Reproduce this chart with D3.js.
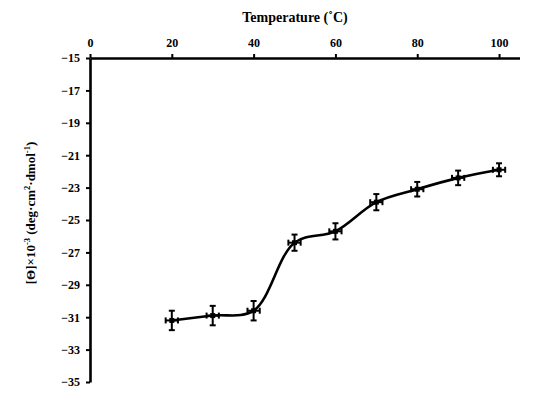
<!DOCTYPE html>
<html>
<head>
<meta charset="utf-8">
<script src="https://cdn.jsdelivr.net/npm/d3@7"></script>
<style>
  body { margin: 0; background: #fff; }
  svg text { font-family: "Times New Roman", Times, "Liberation Serif", serif !important; font-weight: bold; fill: #000; }
  .axis path, .axis line { stroke: #000; }
</style>
</head>
<body>
<script>
// #Data
const temps = [20, 30, 40, 50, 60, 70, 80, 90, 100];
const theta = [-31.2, -30.9, -30.6, -26.4, -25.7, -23.9, -23.1, -22.4, -21.9];
const yErr = [0.6, 0.6, 0.6, 0.5, 0.5, 0.5, 0.45, 0.45, 0.4];
const xErr = [1.5, 1.5, 1.5, 1.5, 1.5, 1.5, 1.5, 1.5, 1.5];
const xTicks = [0, 20, 40, 60, 80, 100];
const yTicks = [-15, -17, -19, -21, -23, -25, -27, -29, -31, -33, -35];

const width = 533, height = 394;
const serif = '"Times New Roman", Times, "Liberation Serif", serif';

const svg = d3.select('body')
              .append('svg')
              .attr('width', width)
              .attr('height', height);

// #Scales
const x = d3.scaleLinear().domain([0, 105]).range([90, 519.5]);
const y = d3.scaleLinear().domain([-15, -35]).range([58, 382]);

// #Axes
const xAxis = d3.axisTop(x).tickValues(xTicks).tickSize(4).tickPadding(7).tickSizeOuter(0);
const yAxis = d3.axisLeft(y).tickValues(yTicks).tickSize(4).tickPadding(6).tickSizeOuter(0);

const gx = svg.append('g')
   .attr('class', 'axis')
   .attr('transform', 'translate(0,' + y(-15) + ')')
   .call(xAxis);

const gy = svg.append('g')
   .attr('class', 'axis')
   .attr('transform', 'translate(' + x(0) + ',0)')
   .call(yAxis);

[gx, gy].forEach(g => {
    g.attr('font-family', serif).attr('font-size', 12);
    g.select('.domain').attr('stroke-width', 2.6);
    g.selectAll('.tick line').attr('stroke-width', 2);
});

// #Titles
svg.append('text')
   .attr('x', 295)
   .attr('y', 22)
   .attr('text-anchor', 'middle')
   .attr('font-family', serif)
   .style('font-size', '14px')
   .text('Temperature (˚C)');

const yl = svg.append('text')
   .attr('transform', 'translate(35,213) rotate(-90)')
   .attr('text-anchor', 'middle')
   .attr('font-family', serif)
   .style('font-size', '13px');
yl.append('tspan').text('[Θ]×10');
yl.append('tspan').attr('dy', -5).style('font-size', '8.5px').text('-3');
yl.append('tspan').attr('dy', 5).text(' (deg·cm');
yl.append('tspan').attr('dy', -5).style('font-size', '8.5px').text('2');
yl.append('tspan').attr('dy', 5).text('·dmol');
yl.append('tspan').attr('dy', -5).style('font-size', '8.5px').text('-1');
yl.append('tspan').attr('dy', 5).text(')');

// #Smoothed line
const pts = temps.map((t, i) => [t, theta[i]]);
const line = d3.line()
               .x(d => x(d[0]))
               .y(d => y(d[1]))
               .curve(d3.curveCatmullRom.alpha(0.5));

svg.append('path')
   .datum(pts)
   .attr('d', line)
   .attr('fill', 'none')
   .attr('stroke', '#000')
   .attr('stroke-width', 2.6);

// #Error bars
const eb = svg.append('g').attr('stroke', '#000').attr('stroke-width', 2);
const cap = 3;
temps.forEach((t, i) => {
    const cx = x(t), cy = y(theta[i]);
    const y0 = y(theta[i] - yErr[i]), y1 = y(theta[i] + yErr[i]);
    const x0 = x(t - xErr[i]), x1 = x(t + xErr[i]);
    eb.append('line').attr('x1', cx).attr('x2', cx).attr('y1', y0).attr('y2', y1);
    eb.append('line').attr('x1', cx - cap).attr('x2', cx + cap).attr('y1', y0).attr('y2', y0);
    eb.append('line').attr('x1', cx - cap).attr('x2', cx + cap).attr('y1', y1).attr('y2', y1);
    eb.append('line').attr('x1', x0).attr('x2', x1).attr('y1', cy).attr('y2', cy);
    eb.append('line').attr('x1', x0).attr('x2', x0).attr('y1', cy - cap).attr('y2', cy + cap);
    eb.append('line').attr('x1', x1).attr('x2', x1).attr('y1', cy - cap).attr('y2', cy + cap);
});

// #Markers
svg.append('g')
   .selectAll('rect')
   .data(pts)
   .enter()
   .append('rect')
   .attr('x', d => x(d[0]) - 2.5)
   .attr('y', d => y(d[1]) - 2.5)
   .attr('width', 5)
   .attr('height', 5)
   .attr('fill', '#000');
</script>
</body>
</html>
